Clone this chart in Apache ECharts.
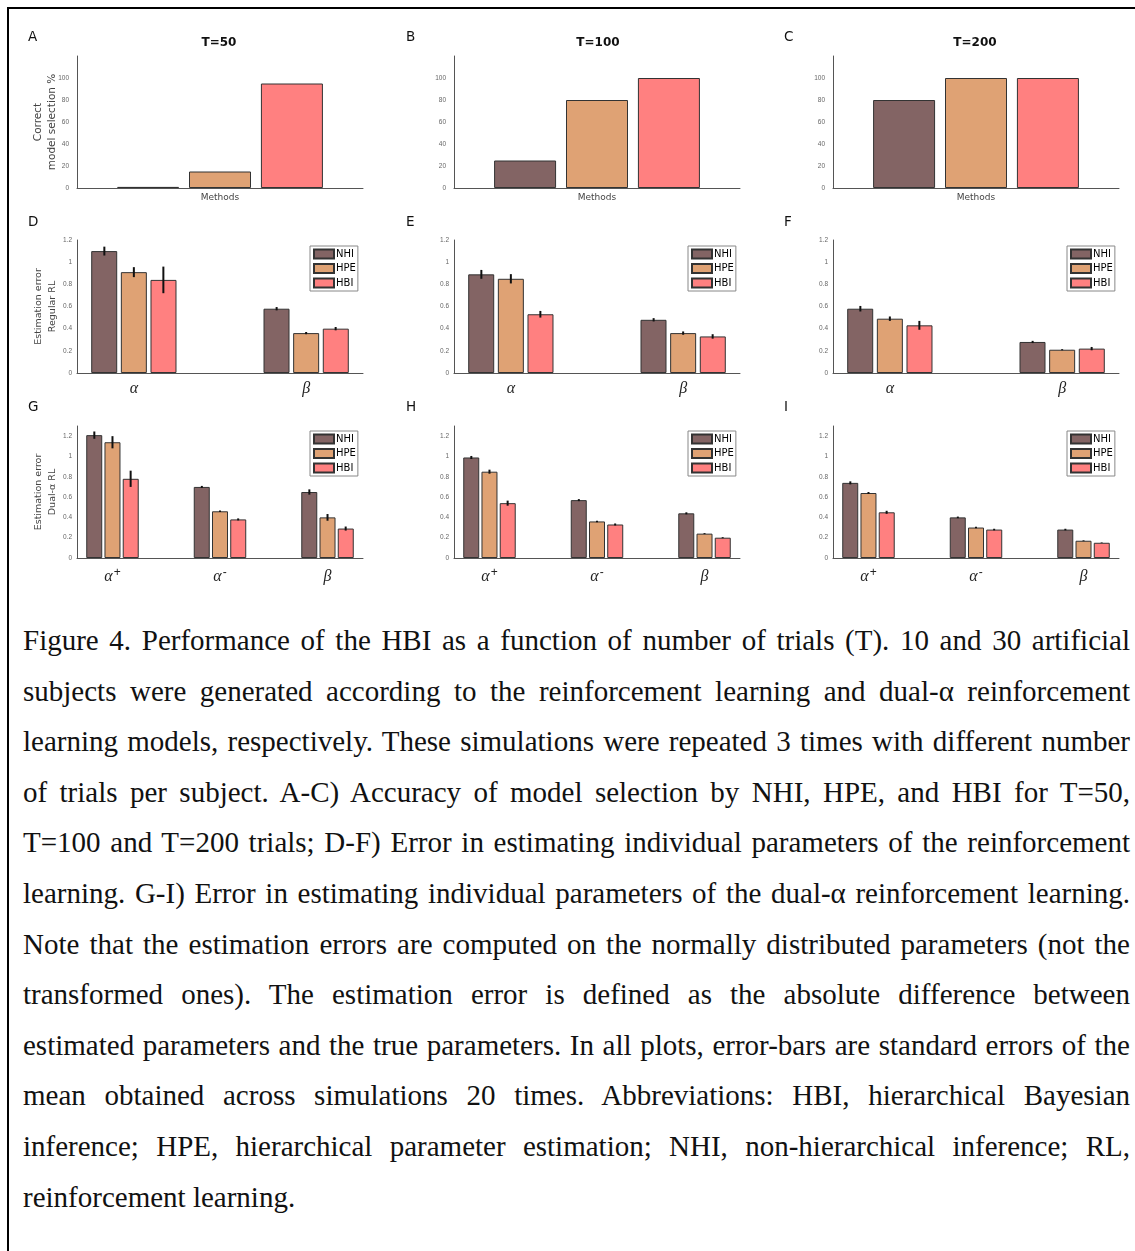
<!DOCTYPE html>
<html>
<head>
<meta charset="utf-8">
<script src="https://cdn.jsdelivr.net/npm/echarts@6/dist/echarts.min.js"></script>
<style>
body { margin: 0; background: #fff; }
#frame { position: absolute; left: 7px; top: 7px; width: 1130px; height: 1246px; border-top: 2px solid #000; border-left: 2px solid #000; }
#chart { position: absolute; left: 0; top: 0; width: 1135px; height: 600px; }
#caption { position: absolute; left: 23px; top: 615px; width: 1107px; font-family: 'Liberation Serif', 'Times New Roman', serif; font-size: 29px; line-height: 50.6px; color: #111; }
#caption div { text-align: justify; text-align-last: justify; white-space: nowrap; }
#caption div.last { text-align-last: left; }
</style>
</head>
<body>
<div id="frame"></div>
<div id="chart"></div>
<div id="caption"></div>
<script>
var methods = ['NHI', 'HPE', 'HBI'];
var colors = ['#836464', '#dfa274', '#ff8080'];
var trials = ['T=50', 'T=100', 'T=200'];
var letters = [['A', 'B', 'C'], ['D', 'E', 'F'], ['G', 'H', 'I']];

// A-C: correct model selection %
var selNHI = [1, 25, 80];
var selHPE = [15, 80, 100];
var selHBI = [95, 100, 100];

// D-F: regular RL, parameters alpha, beta
var rlParams = ['α', 'β'];
var rlNHI = [[1.10, 0.58], [0.89, 0.48], [0.58, 0.28]];
var rlHPE = [[0.91, 0.36], [0.85, 0.36], [0.49, 0.21]];
var rlHBI = [[0.84, 0.40], [0.53, 0.33], [0.43, 0.22]];
var rlNHIErr = [[0.04, 0.015], [0.04, 0.015], [0.025, 0.01]];
var rlHPEErr = [[0.045, 0.01], [0.042, 0.015], [0.02, 0.005]];
var rlHBIErr = [[0.12, 0.015], [0.03, 0.02], [0.04, 0.015]];

// G-I: dual-alpha RL, parameters alpha+, alpha-, beta
var dualParams = ['α+', 'α-', 'β'];
var dualNHI = [[1.21, 0.70, 0.65], [0.99, 0.57, 0.44], [0.74, 0.40, 0.28]];
var dualHPE = [[1.14, 0.46, 0.40], [0.85, 0.36, 0.24], [0.64, 0.30, 0.17]];
var dualHBI = [[0.78, 0.38, 0.29], [0.54, 0.33, 0.20], [0.45, 0.28, 0.15]];
var dualNHIErr = [[0.036, 0.01, 0.026], [0.015, 0.01, 0.01], [0.015, 0.008, 0.008]];
var dualHPEErr = [[0.06, 0.007, 0.033], [0.02, 0.008, 0.005], [0.01, 0.007, 0.004]];
var dualHBIErr = [[0.08, 0.01, 0.02], [0.025, 0.01, 0.005], [0.015, 0.008, 0.003]];

var captionLines = [
  'Figure 4. Performance of the HBI as a function of number of trials (T). 10 and 30 artificial',
  'subjects were generated according to the reinforcement learning and dual-α reinforcement',
  'learning models, respectively. These simulations were repeated 3 times with different number',
  'of trials per subject. A-C) Accuracy of model selection by NHI, HPE, and HBI for T=50,',
  'T=100 and T=200 trials; D-F) Error in estimating individual parameters of the reinforcement',
  'learning. G-I) Error in estimating individual parameters of the dual-α reinforcement learning.',
  'Note that the estimation errors are computed on the normally distributed parameters (not the',
  'transformed ones). The estimation error is defined as the absolute difference between',
  'estimated parameters and the true parameters. In all plots, error-bars are standard errors of the',
  'mean obtained across simulations 20 times. Abbreviations: HBI, hierarchical Bayesian',
  'inference; HPE, hierarchical parameter estimation; NHI, non-hierarchical inference; RL,',
  'reinforcement learning.'
];

var cap = document.getElementById('caption');
captionLines.forEach(function (t, i) {
  var d = document.createElement('div');
  d.textContent = t;
  if (i === captionLines.length - 1) d.className = 'last';
  cap.appendChild(d);
});

var colLeft = [77, 454, 833];
var colW = 286;
var rowTop = [56, 240, 426];
var rowH = [132, 133, 132];
var letterX = [28, 406, 784];
var letterY = [37, 222, 407];
var titleX = [219, 598, 975];
var legendX = [310, 688, 1067];
var legendY = [null, 246, 431];

var sans = 'DejaVu Sans';
var grids = [], xAxes = [], yAxes = [], series = [], legends = [], graphics = [];

function errRender(offset) {
  return function (params, api) {
    var x = api.value(0), y = api.value(1), e = api.value(2);
    var top = api.coord([x, y + e]);
    var bot = api.coord([x, y - e]);
    return {
      type: 'line',
      shape: { x1: top[0] + offset, y1: top[1], x2: bot[0] + offset, y2: bot[1] },
      style: { stroke: '#111', lineWidth: 2 }
    };
  };
}

function yAxisBase(idx, max, interval, hideMax, name, nameSize, gap) {
  return {
    type: 'value', gridIndex: idx, min: 0, max: max, interval: interval,
    name: name, nameLocation: 'middle', nameGap: gap, nameMoveOverlap: false,
    nameTextStyle: { fontFamily: sans, fontSize: nameSize, color: '#444', lineHeight: nameSize + 4 },
    axisLine: { show: true, lineStyle: { color: '#555', width: 1 } },
    axisTick: { show: false },
    splitLine: { show: false },
    axisLabel: { fontFamily: 'Liberation Sans', fontSize: 6.5, color: '#666', margin: max > 10 ? 8 : 5, showMaxLabel: !hideMax }
  };
}

var barStyle = function (k) {
  return { color: colors[k], borderColor: '#333', borderWidth: 1 };
};

for (var r = 0; r < 3; r++) {
  for (var c = 0; c < 3; c++) {
    var idx = r * 3 + c;
    grids.push({ left: colLeft[c], top: rowTop[r], width: colW, height: rowH[r] });
    graphics.push({
      type: 'text', x: letterX[c], y: letterY[r],
      style: { text: letters[r][c], font: '13.5px ' + sans, fill: '#111', textVerticalAlign: 'middle' }
    });

    if (r === 0) {
      graphics.push({
        type: 'text', x: titleX[c], y: 43,
        style: { text: trials[c], font: 'bold 12px ' + sans, fill: '#111', textAlign: 'center', textVerticalAlign: 'middle' }
      });
      xAxes.push({
        type: 'category', gridIndex: idx, data: ['Methods'],
        axisLine: { lineStyle: { color: '#555', width: 1 } },
        axisTick: { show: false },
        axisLabel: { fontFamily: sans, fontSize: 9, color: '#444', margin: 5 }
      });
      yAxes.push(yAxisBase(idx, 120, 20, true, c === 0 ? 'Correct\nmodel selection %' : '', 10.5, 17));
      var sel = [selNHI, selHPE, selHBI];
      for (var k = 0; k < 3; k++) {
        series.push({
          name: methods[k], type: 'bar', xAxisIndex: idx, yAxisIndex: idx,
          barWidth: 62, barGap: '16%',
          itemStyle: barStyle(k),
          data: [sel[k][c]]
        });
      }
    } else {
      var params = r === 1 ? rlParams : dualParams;
      var vals = r === 1 ? [rlNHI, rlHPE, rlHBI] : [dualNHI, dualHPE, dualHBI];
      var errs = r === 1 ? [rlNHIErr, rlHPEErr, rlHBIErr] : [dualNHIErr, dualHPEErr, dualHBIErr];
      var n = params.length;
      var bw = r === 1 ? 26 : 16;
      var gapPct = 0.135;
      var ticks = params.map(function (p, i) { return i + 1; });
      xAxes.push({
        type: 'value', gridIndex: idx, min: 0.67, max: n + 0.33,
        axisLine: { show: true, lineStyle: { color: '#555', width: 1 } },
        axisTick: { show: false },
        splitLine: { show: false },
        axisLabel: {
          customValues: ticks,
          margin: r === 1 ? 6 : 9,
          formatter: (function (ps) {
            return function (v) {
              var p = ps[Math.round(v) - 1] || '';
              var sup = p.slice(1);
              return sup ? '{a|' + p[0] + '}{s|' + sup + '}' : '{a|' + p + '}';
            };
          })(params),
          rich: {
            a: { fontFamily: 'Liberation Serif', fontStyle: 'italic', fontSize: 16, color: '#222', lineHeight: 18, verticalAlign: 'bottom' },
            s: { fontFamily: 'Liberation Sans', fontSize: 12, color: '#222', lineHeight: 12, verticalAlign: 'bottom', padding: [0, 0, 6, 1] }
          }
        }
      });
      var yName = '';
      if (c === 0) yName = r === 1 ? 'Estimation error\nRegular RL' : 'Estimation error\nDual-α RL';
      yAxes.push(yAxisBase(idx, r === 1 ? 1.2 : 1.3, 0.2, r === 2, yName, 9.5, 18));
      for (var k = 0; k < 3; k++) {
        var d = [], e = [];
        for (var i = 0; i < n; i++) {
          d.push([i + 1, vals[k][c][i]]);
          e.push([i + 1, vals[k][c][i], errs[k][c][i]]);
        }
        series.push({
          name: methods[k], type: 'bar', xAxisIndex: idx, yAxisIndex: idx,
          barWidth: bw, barGap: Math.round(gapPct * 100) + '%',
          itemStyle: barStyle(k),
          data: d
        });
        series.push({
          name: methods[k] + ' err', type: 'custom', xAxisIndex: idx, yAxisIndex: idx,
          z: 5, silent: true,
          renderItem: errRender((k - 1) * bw * (1 + gapPct)),
          data: e
        });
      }
      legends.push({
        data: methods, orient: 'vertical', left: legendX[c], top: legendY[r],
        icon: 'rect', itemWidth: 20, itemHeight: 9, itemGap: 3.5,
        padding: [2.5, 2, 2.5, 3], borderColor: '#888', borderWidth: 1,
        selectedMode: false,
        textStyle: { fontFamily: sans, fontSize: 10, color: '#000', padding: [0, 0, 0, -3] }
      });
    }
  }
}

var chart = echarts.init(document.getElementById('chart'));
chart.setOption({
  animation: false,
  grid: grids,
  xAxis: xAxes,
  yAxis: yAxes,
  legend: legends,
  series: series,
  graphic: graphics
});
</script>
</body>
</html>
